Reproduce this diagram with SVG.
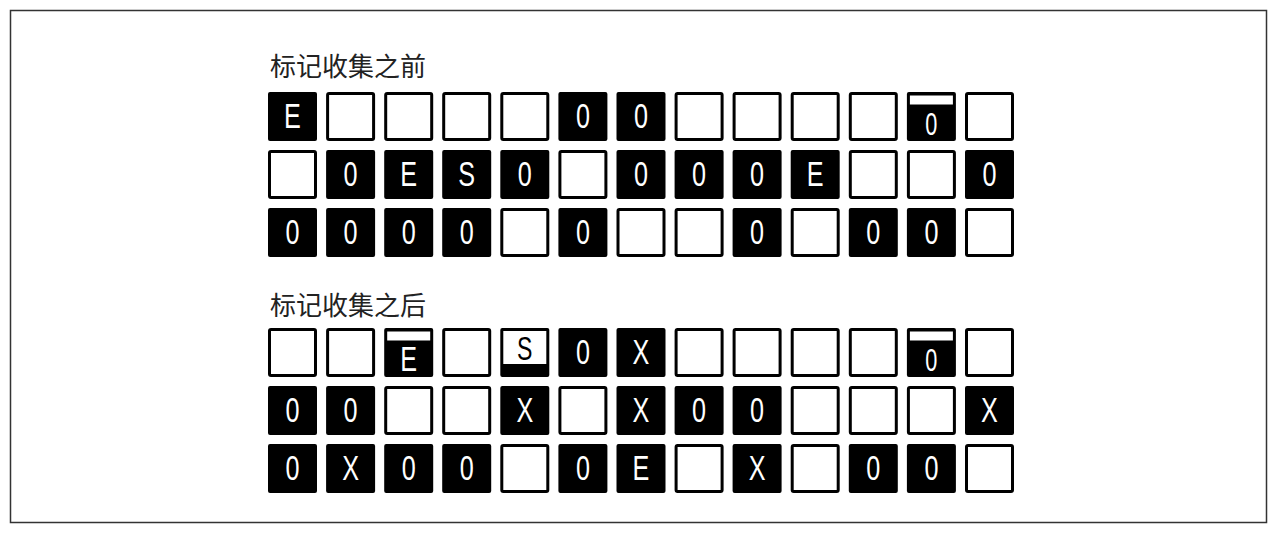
<svg xmlns="http://www.w3.org/2000/svg" xmlns:xlink="http://www.w3.org/1999/xlink" width="1280" height="534" viewBox="0 0 1280 534">
<style>
.frame{fill:#fff;stroke:#333;stroke-width:1.5}
.lbl{font-family:"Noto Sans CJK SC","Noto Sans",sans-serif;font-size:26px;fill:#222}
.t{font-family:"Liberation Sans",Arial,sans-serif;font-size:36px;fill:#fff;text-anchor:middle}
.tb{font-family:"Liberation Sans",Arial,sans-serif;font-size:33px;fill:#000;text-anchor:middle}
.s{font-size:31px}
.w{fill:#fff;stroke:#000;stroke-width:3}
.b{fill:#000}
.bar{fill:#fff}
</style>
<defs>
<rect id="wc" class="w" x="1.5" y="1.5" width="46" height="46" rx="1.5"/>
<rect id="bc" class="b" x="0" y="0" width="49" height="49" rx="2"/>
<rect id="tb" class="bar" x="3" y="3.5" width="43" height="9"/>
<rect id="sw" class="bar" x="3" y="3" width="43" height="33"/>
</defs>
<rect class="frame" x="10.5" y="10.5" width="1256" height="512"/>
<g id="label-before"><text class="lbl" x="270" y="76">标记收集之前</text></g>
<g id="label-after"><text class="lbl" x="270" y="315">标记收集之后</text></g>
<g id="connectors"></g>

<!-- BEFORE row 1 -->
<g id="b1-0"><use href="#bc" x="268" y="92"/><text class="t" transform="translate(292.5,128) scale(0.7,1)">E</text></g>
<g id="b1-1"><use href="#wc" x="326.1" y="92"/></g>
<g id="b1-2"><use href="#wc" x="384.2" y="92"/></g>
<g id="b1-3"><use href="#wc" x="442.2" y="92"/></g>
<g id="b1-4"><use href="#wc" x="500.3" y="92"/></g>
<g id="b1-5"><use href="#bc" x="558.4" y="92"/><text class="t" transform="translate(582.9,128) scale(0.7,1)">0</text></g>
<g id="b1-6"><use href="#bc" x="616.5" y="92"/><text class="t" transform="translate(641,128) scale(0.7,1)">0</text></g>
<g id="b1-7"><use href="#wc" x="674.6" y="92"/></g>
<g id="b1-8"><use href="#wc" x="732.6" y="92"/></g>
<g id="b1-9"><use href="#wc" x="790.7" y="92"/></g>
<g id="b1-10"><use href="#wc" x="848.8" y="92"/></g>
<g id="b1-11"><use href="#bc" x="906.9" y="92"/><use href="#tb" x="906.9" y="92"/><text class="t s" transform="translate(931.4,135) scale(0.7,1)">0</text></g>
<g id="b1-12"><use href="#wc" x="965" y="92"/></g>

<!-- BEFORE row 2 -->
<g id="b2-0"><use href="#wc" x="268" y="150"/></g>
<g id="b2-1"><use href="#bc" x="326.1" y="150"/><text class="t" transform="translate(350.6,186) scale(0.7,1)">0</text></g>
<g id="b2-2"><use href="#bc" x="384.2" y="150"/><text class="t" transform="translate(408.7,186) scale(0.7,1)">E</text></g>
<g id="b2-3"><use href="#bc" x="442.2" y="150"/><text class="t" transform="translate(466.7,186) scale(0.7,1)">S</text></g>
<g id="b2-4"><use href="#bc" x="500.3" y="150"/><text class="t" transform="translate(524.8,186) scale(0.7,1)">0</text></g>
<g id="b2-5"><use href="#wc" x="558.4" y="150"/></g>
<g id="b2-6"><use href="#bc" x="616.5" y="150"/><text class="t" transform="translate(641,186) scale(0.7,1)">0</text></g>
<g id="b2-7"><use href="#bc" x="674.6" y="150"/><text class="t" transform="translate(699.1,186) scale(0.7,1)">0</text></g>
<g id="b2-8"><use href="#bc" x="732.6" y="150"/><text class="t" transform="translate(757.1,186) scale(0.7,1)">0</text></g>
<g id="b2-9"><use href="#bc" x="790.7" y="150"/><text class="t" transform="translate(815.2,186) scale(0.7,1)">E</text></g>
<g id="b2-10"><use href="#wc" x="848.8" y="150"/></g>
<g id="b2-11"><use href="#wc" x="906.9" y="150"/></g>
<g id="b2-12"><use href="#bc" x="965" y="150"/><text class="t" transform="translate(989.5,186) scale(0.7,1)">0</text></g>

<!-- BEFORE row 3 -->
<g id="b3-0"><use href="#bc" x="268" y="208"/><text class="t" transform="translate(292.5,244) scale(0.7,1)">0</text></g>
<g id="b3-1"><use href="#bc" x="326.1" y="208"/><text class="t" transform="translate(350.6,244) scale(0.7,1)">0</text></g>
<g id="b3-2"><use href="#bc" x="384.2" y="208"/><text class="t" transform="translate(408.7,244) scale(0.7,1)">0</text></g>
<g id="b3-3"><use href="#bc" x="442.2" y="208"/><text class="t" transform="translate(466.7,244) scale(0.7,1)">0</text></g>
<g id="b3-4"><use href="#wc" x="500.3" y="208"/></g>
<g id="b3-5"><use href="#bc" x="558.4" y="208"/><text class="t" transform="translate(582.9,244) scale(0.7,1)">0</text></g>
<g id="b3-6"><use href="#wc" x="616.5" y="208"/></g>
<g id="b3-7"><use href="#wc" x="674.6" y="208"/></g>
<g id="b3-8"><use href="#bc" x="732.6" y="208"/><text class="t" transform="translate(757.1,244) scale(0.7,1)">0</text></g>
<g id="b3-9"><use href="#wc" x="790.7" y="208"/></g>
<g id="b3-10"><use href="#bc" x="848.8" y="208"/><text class="t" transform="translate(873.3,244) scale(0.7,1)">0</text></g>
<g id="b3-11"><use href="#bc" x="906.9" y="208"/><text class="t" transform="translate(931.4,244) scale(0.7,1)">0</text></g>
<g id="b3-12"><use href="#wc" x="965" y="208"/></g>

<!-- AFTER row 1 -->
<g id="a1-0"><use href="#wc" x="268" y="328"/></g>
<g id="a1-1"><use href="#wc" x="326.1" y="328"/></g>
<g id="a1-2"><use href="#bc" x="384.2" y="328"/><use href="#tb" x="384.2" y="328"/><text class="t" transform="translate(408.7,371) scale(0.7,1)">E</text></g>
<g id="a1-3"><use href="#wc" x="442.2" y="328"/></g>
<g id="a1-4"><use href="#bc" x="500.3" y="328"/><use href="#sw" x="500.3" y="328"/><text class="tb" transform="translate(524.8,360) scale(0.7,1)">S</text></g>
<g id="a1-5"><use href="#bc" x="558.4" y="328"/><text class="t" transform="translate(582.9,364) scale(0.7,1)">0</text></g>
<g id="a1-6"><use href="#bc" x="616.5" y="328"/><text class="t" transform="translate(641,364) scale(0.7,1)">X</text></g>
<g id="a1-7"><use href="#wc" x="674.6" y="328"/></g>
<g id="a1-8"><use href="#wc" x="732.6" y="328"/></g>
<g id="a1-9"><use href="#wc" x="790.7" y="328"/></g>
<g id="a1-10"><use href="#wc" x="848.8" y="328"/></g>
<g id="a1-11"><use href="#bc" x="906.9" y="328"/><use href="#tb" x="906.9" y="328"/><text class="t s" transform="translate(931.4,371) scale(0.7,1)">0</text></g>
<g id="a1-12"><use href="#wc" x="965" y="328"/></g>

<!-- AFTER row 2 -->
<g id="a2-0"><use href="#bc" x="268" y="386"/><text class="t" transform="translate(292.5,422) scale(0.7,1)">0</text></g>
<g id="a2-1"><use href="#bc" x="326.1" y="386"/><text class="t" transform="translate(350.6,422) scale(0.7,1)">0</text></g>
<g id="a2-2"><use href="#wc" x="384.2" y="386"/></g>
<g id="a2-3"><use href="#wc" x="442.2" y="386"/></g>
<g id="a2-4"><use href="#bc" x="500.3" y="386"/><text class="t" transform="translate(524.8,422) scale(0.7,1)">X</text></g>
<g id="a2-5"><use href="#wc" x="558.4" y="386"/></g>
<g id="a2-6"><use href="#bc" x="616.5" y="386"/><text class="t" transform="translate(641,422) scale(0.7,1)">X</text></g>
<g id="a2-7"><use href="#bc" x="674.6" y="386"/><text class="t" transform="translate(699.1,422) scale(0.7,1)">0</text></g>
<g id="a2-8"><use href="#bc" x="732.6" y="386"/><text class="t" transform="translate(757.1,422) scale(0.7,1)">0</text></g>
<g id="a2-9"><use href="#wc" x="790.7" y="386"/></g>
<g id="a2-10"><use href="#wc" x="848.8" y="386"/></g>
<g id="a2-11"><use href="#wc" x="906.9" y="386"/></g>
<g id="a2-12"><use href="#bc" x="965" y="386"/><text class="t" transform="translate(989.5,422) scale(0.7,1)">X</text></g>

<!-- AFTER row 3 -->
<g id="a3-0"><use href="#bc" x="268" y="444"/><text class="t" transform="translate(292.5,480) scale(0.7,1)">0</text></g>
<g id="a3-1"><use href="#bc" x="326.1" y="444"/><text class="t" transform="translate(350.6,480) scale(0.7,1)">X</text></g>
<g id="a3-2"><use href="#bc" x="384.2" y="444"/><text class="t" transform="translate(408.7,480) scale(0.7,1)">0</text></g>
<g id="a3-3"><use href="#bc" x="442.2" y="444"/><text class="t" transform="translate(466.7,480) scale(0.7,1)">0</text></g>
<g id="a3-4"><use href="#wc" x="500.3" y="444"/></g>
<g id="a3-5"><use href="#bc" x="558.4" y="444"/><text class="t" transform="translate(582.9,480) scale(0.7,1)">0</text></g>
<g id="a3-6"><use href="#bc" x="616.5" y="444"/><text class="t" transform="translate(641,480) scale(0.7,1)">E</text></g>
<g id="a3-7"><use href="#wc" x="674.6" y="444"/></g>
<g id="a3-8"><use href="#bc" x="732.6" y="444"/><text class="t" transform="translate(757.1,480) scale(0.7,1)">X</text></g>
<g id="a3-9"><use href="#wc" x="790.7" y="444"/></g>
<g id="a3-10"><use href="#bc" x="848.8" y="444"/><text class="t" transform="translate(873.3,480) scale(0.7,1)">0</text></g>
<g id="a3-11"><use href="#bc" x="906.9" y="444"/><text class="t" transform="translate(931.4,480) scale(0.7,1)">0</text></g>
<g id="a3-12"><use href="#wc" x="965" y="444"/></g>
</svg>
